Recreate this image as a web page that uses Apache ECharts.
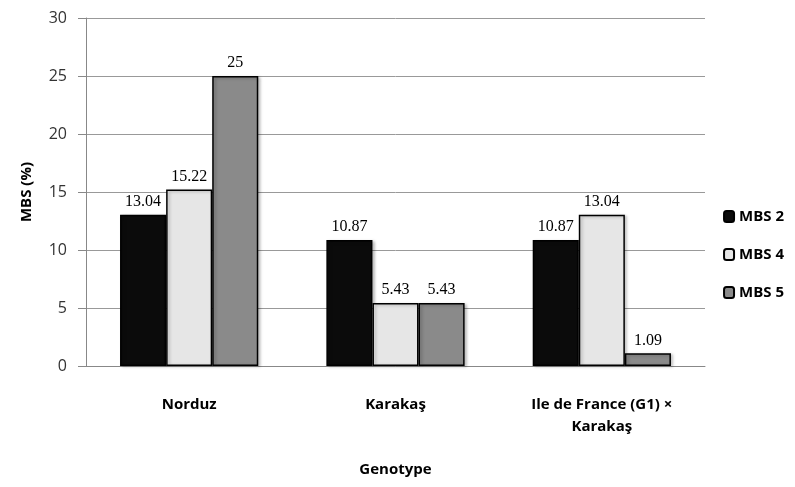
<!DOCTYPE html>
<html><head><meta charset="utf-8">
<script src="https://cdn.jsdelivr.net/npm/echarts@6/dist/echarts.min.js"></script>
<style>html,body{margin:0;padding:0;background:#fff}#c{width:795px;height:487px}</style>
</head><body><div id="c"></div>
<script>
const categories = ['Norduz', 'Karakaş', 'Ile de France (G1) ×\nKarakaş'];
const seriesNames = ['MBS 2', 'MBS 4', 'MBS 5'];
const mbs2 = [13.04, 10.87, 10.87];
const mbs4 = [15.22, 5.43, 13.04];
const mbs5 = [25, 5.43, 1.09];
const yTicks = [0, 5, 10, 15, 20, 25, 30];

const colors = ['#0b0b0b', '#e6e6e6', '#8a8a8a'];
const values = [mbs2, mbs4, mbs5];
const chart = echarts.init(document.getElementById('c'), null, {renderer: 'canvas'});
chart.setOption({
  animation: false,
  grid: {left: 86, top: 18, right: 90, bottom: 121},
  legend: {
    orient: 'vertical', right: 6, top: 204, itemGap: 23,
    itemWidth: 10, itemHeight: 11,
    textStyle: {fontFamily: 'Open Sans', fontSize: 15, color: '#000', fontWeight: 'bold'},
    data: seriesNames
  },
  xAxis: {
    type: 'category', data: categories,
    name: 'Genotype', nameLocation: 'middle', nameGap: 96,
    nameTextStyle: {fontFamily: 'Open Sans', fontSize: 15, color: '#000', fontWeight: 'bold'},
    axisLine: {lineStyle: {color: '#888'}},
    axisTick: {show: false},
    axisLabel: {fontFamily: 'Open Sans', fontSize: 15, color: '#000', margin: 28, lineHeight: 22, fontWeight: 'bold'}
  },
  yAxis: {
    type: 'value', min: 0, max: 30, interval: 5,
    name: 'MBS (%)', nameLocation: 'middle', nameGap: 52, nameRotate: 90,
    nameTextStyle: {fontFamily: 'Open Sans', fontSize: 15, color: '#000', fontWeight: 'bold'},
    axisLine: {show: true, lineStyle: {color: '#888'}},
    axisTick: {show: true, inside: false, length: 8, lineStyle: {color: '#888'}},
    splitLine: {lineStyle: {color: '#999'}},
    axisLabel: {fontFamily: 'Open Sans', fontSize: 16, color: '#333', margin: 19,
      formatter: v => yTicks.includes(v) ? String(v) : ''}
  },
  series: seriesNames.map((n, i) => ({
    name: n, type: 'bar', data: values[i],
    barGap: '0%', barCategoryGap: '33%',
    itemStyle: {color: colors[i], borderColor: '#000', borderWidth: 1.5,
      shadowColor: 'rgba(0,0,0,0.25)', shadowBlur: 3, shadowOffsetX: 2, shadowOffsetY: 1},
    label: {show: true, position: 'top', distance: 5, fontFamily: 'Liberation Serif', fontSize: 16, color: '#000'}
  }))
});
</script></body></html>
